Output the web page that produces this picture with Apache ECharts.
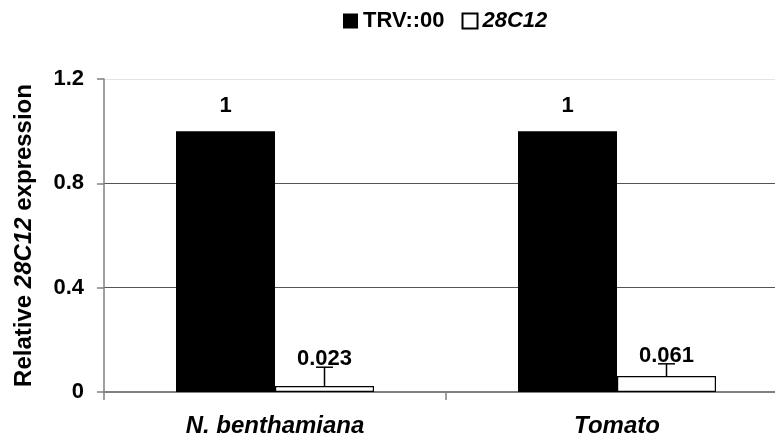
<!DOCTYPE html>
<html>
<head>
<meta charset="utf-8">
<script src="https://cdn.jsdelivr.net/npm/echarts@6/dist/echarts.min.js"></script>
<style>
  html, body { margin: 0; padding: 0; background: #fff; }
  #chart { width: 775px; height: 441px; }
</style>
</head>
<body>
<div id="chart"></div>
<script>
  // data
  const categories = ['N. benthamiana', 'Tomato'];
  const seriesNames = ['TRV::00', '28C12'];
  const trvValues = [1, 1];
  const geneValues = [0.023, 0.061];
  const geneErrors = [0.072, 0.047];
  const yTicks = [0, 0.4, 0.8, 1.2];

  const FONT = "'Liberation Sans', Arial, sans-serif";
  const BAR_W = 99;

  let chart = echarts.init(document.getElementById('chart'));

  let errData = geneValues.map(function (v, i) {
    return [i, v, v + geneErrors[i], v];
  });

  chart.setOption({
    animation: false,
    textStyle: { fontFamily: FONT },
    legend: {
      top: 5,
      left: 338,
      icon: 'rect',
      itemWidth: 15,
      itemHeight: 15,
      itemGap: 17,
      textStyle: { fontSize: 22, fontWeight: 'bold', color: '#000', fontFamily: FONT },
      data: [
        { name: seriesNames[0] },
        { name: seriesNames[1], textStyle: { fontStyle: 'italic' } }
      ]
    },
    grid: { left: 104, right: -13, top: 79, bottom: 49, outerBoundsMode: 'none', containLabel: false },
    xAxis: {
      type: 'category',
      data: categories,
      axisLine: { lineStyle: { color: '#808080', width: 2 } },
      axisTick: { show: true, length: 8, lineStyle: { color: '#808080', width: 1.5 } },
      axisLabel: {
        margin: 22,
        fontSize: 24,
        fontWeight: 'bold',
        fontStyle: 'italic',
        color: '#000',
        fontFamily: FONT
      }
    },
    yAxis: {
      type: 'value',
      min: yTicks[0],
      max: yTicks[yTicks.length - 1],
      interval: 0.4,
      name: 'Relative {i|28C12} expression',
      nameLocation: 'middle',
      nameRotate: 90,
      nameGap: 68,
      nameTextStyle: {
        fontSize: 24,
        fontWeight: 'bold',
        color: '#000',
        fontFamily: FONT,
        rich: {
          i: { fontSize: 24, fontWeight: 'bold', fontStyle: 'italic', color: '#000', fontFamily: FONT }
        }
      },
      axisLine: { show: true, lineStyle: { color: '#808080', width: 1.5 } },
      axisTick: { show: true, length: 7, lineStyle: { color: '#808080', width: 1.5 } },
      axisLabel: {
        margin: 20,
        fontSize: 22,
        fontWeight: 'bold',
        color: '#000',
        fontFamily: FONT
      },
      splitLine: {
        lineStyle: { color: ['#808080', '#555', '#555', '#e4e4e4'], width: 1 }
      }
    },
    series: [
      {
        name: seriesNames[0],
        type: 'bar',
        data: trvValues,
        barWidth: BAR_W,
        barGap: '0%',
        itemStyle: { color: '#000' },
        label: {
          show: true,
          position: 'top',
          distance: 14,
          fontSize: 22,
          fontWeight: 'bold',
          color: '#000',
          fontFamily: FONT
        }
      },
      {
        name: seriesNames[1],
        type: 'bar',
        data: geneValues,
        barWidth: BAR_W,
        itemStyle: { color: '#fff', borderColor: '#000', borderWidth: 1.2 }
      },
      {
        type: 'custom',
        name: 'err',
        data: errData,
        z: 10,
        renderItem: function (params, api) {
          let c = api.value(0);
          let base = api.coord([c, api.value(1)]);
          let top = api.coord([c, api.value(2)]);
          let x = base[0] + BAR_W / 2;
          let cap = 8.5;
          let lbl = api.value(3);
          return {
            type: 'group',
            children: [
              { type: 'line', shape: { x1: x, y1: base[1], x2: x, y2: top[1] },
                style: { stroke: '#000', lineWidth: 1.5 } },
              { type: 'line', shape: { x1: x - cap, y1: top[1], x2: x + cap, y2: top[1] },
                style: { stroke: '#000', lineWidth: 1.5 } },
              { type: 'text', x: x, y: top[1] + 3,
                style: {
                  text: String(lbl),
                  textAlign: 'center',
                  textVerticalAlign: 'bottom',
                  font: 'bold 22px ' + FONT,
                  fill: '#000'
                } }
            ]
          };
        }
      }
    ]
  });
</script>
</body>
</html>
